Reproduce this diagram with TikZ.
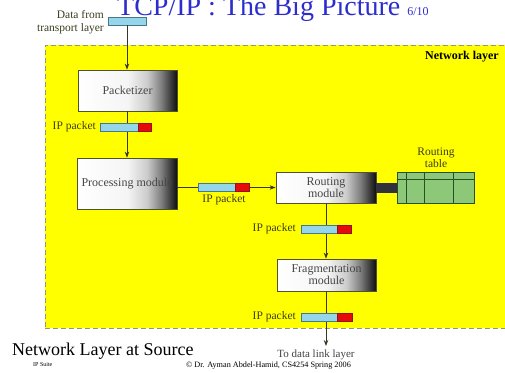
\documentclass[tikz,border=0pt]{standalone}
\usepackage{fontspec}
\setmainfont{Liberation Serif}
\usetikzlibrary{arrows.meta}
\definecolor{titleblue}{RGB}{45,45,205}
\definecolor{cyanfill}{RGB}{150,214,234}
\definecolor{cyanedge}{RGB}{70,120,140}
\definecolor{redfill}{RGB}{230,10,10}
\definecolor{rededge}{RGB}{140,20,20}
\definecolor{greenfill}{RGB}{140,200,120}
\definecolor{greenline}{RGB}{40,80,40}
\definecolor{darkconn}{RGB}{50,50,60}
\definecolor{linecol}{RGB}{55,55,35}
\definecolor{lblcol}{RGB}{60,60,30}
\definecolor{boxtext}{RGB}{70,70,70}
\definecolor{boxline}{RGB}{80,80,50}
\definecolor{dashcol}{RGB}{150,150,110}
\definecolor{ylw}{RGB}{255,255,0}
\pgfdeclarehorizontalshading{boxshade}{100bp}{rgb(0bp)=(1,1,1); rgb(25bp)=(1,1,1); rgb(50bp)=(0.96,0.96,0.96); rgb(60bp)=(0.8,0.8,0.8); rgb(67bp)=(0.5,0.5,0.5); rgb(75bp)=(0.06,0.06,0.06); rgb(100bp)=(0.06,0.06,0.06)}
\begin{document}
\begin{tikzpicture}[x=1pt,y=-1pt,
  module/.style={draw=boxline, line width=0.8pt, shade, shading=boxshade, inner sep=0pt, align=center, text=boxtext, font=\fontsize{12}{12}\selectfont},
  cyanbar/.style={draw=cyanedge, line width=0.6pt, fill=cyanfill, inner sep=0pt, minimum height=8pt},
  redbar/.style={draw=rededge, line width=0.6pt, fill=redfill, inner sep=0pt, minimum height=8pt},
  lbl/.style={inner sep=0pt, text=lblcol, font=\fontsize{11.5}{12}\selectfont},
  flow/.style={draw=linecol, line width=0.9pt, -{Stealth[length=6pt,width=4.5pt]}},
  tblline/.style={draw=greenline, line width=0.8pt}]
\useasboundingbox (0,0) rectangle (505,372);
% title
\node[anchor=base west, inner sep=0pt, text=titleblue, font=\fontsize{28}{28}\selectfont] (title) at (117,16) {TCP/IP : The Big Picture {\fontsize{12}{12}\selectfont 6/10}};
% network layer region
\node[draw=dashcol, fill=ylw, dash pattern=on 5pt off 3pt, line width=1pt, minimum width=472pt, minimum height=283pt, inner sep=0pt] (region) at (281,186.5) {};
\node[anchor=east, inner sep=0pt, font=\bfseries\fontsize{12}{12}\selectfont] (nltitle) at (499,57) {Network layer};
% input
\node[anchor=east, align=right, inner sep=0pt, text=lblcol, font=\fontsize{11.5}{13}\selectfont] (dlabel) at (104,22) {Data from\\transport layer};
\node[cyanbar, minimum width=38pt] (din) at (127,21) {};
% modules
\node[module, minimum width=99pt, minimum height=41pt] (pk) at (127.5,90.5) {Packetizer};
\node[module, minimum width=100pt, minimum height=51pt] (proc) at (127,183.5) {Processing module};
\node[module, minimum width=100pt, minimum height=31pt] (rt) at (326,187.5) {Routing\\module};
\node[module, minimum width=99pt, minimum height=32pt] (fr) at (326.5,275) {Fragmentation\\module};
\node[draw=greenline, line width=0.8pt, fill=greenfill, minimum width=77pt, minimum height=31pt, inner sep=0pt] (tbl) at (435.5,187.5) {};
\node[lbl, align=center] (tlabel) at (436,158) {Routing\\table};
\coordinate (out) at (326,346);
% connectors
\draw[flow] (din.south) -- (din.south |- pk.north);
\draw[flow] (pk.south -| din.south) -- (proc.north -| din.south);
\draw[flow] (rt.west -| proc.east) -- (rt.west);
\draw[flow] (rt.south) -- (rt.south |- fr.north);
\draw[flow] (fr.south -| rt.south) -- (out);
\draw[line width=10pt, draw=darkconn] (rt.east) -- (tbl.west);
\draw[tblline] ([xshift=10pt]tbl.north west) -- ([xshift=10pt]tbl.south west);
\draw[tblline] ([xshift=28pt]tbl.north west) -- ([xshift=28pt]tbl.south west);
\draw[tblline] ([xshift=57pt]tbl.north west) -- ([xshift=57pt]tbl.south west);
\draw[tblline] ([yshift=-8pt]tbl.north west) -- ([yshift=-8pt]tbl.north east);
% packets
\node[cyanbar, minimum width=38pt] (p1a) at (119,127) {};
\node[redbar, minimum width=13pt] (p1b) at (144.5,127) {};
\node[lbl, anchor=east] (p1l) at (96,127) {IP packet};
\node[cyanbar, minimum width=37pt] (p2a) at (216.5,187.5) {};
\node[redbar, minimum width=14pt] (p2b) at (242,187.5) {};
\node[lbl] (p2l) at (224,200) {IP packet};
\node[cyanbar, minimum width=36pt] (p3a) at (319,229) {};
\node[redbar, minimum width=14pt] (p3b) at (344,229) {};
\node[lbl, anchor=east] (p3l) at (296,229) {IP packet};
\node[cyanbar, minimum width=36pt] (p4a) at (319,317) {};
\node[redbar, minimum width=15pt] (p4b) at (344.5,317) {};
\node[lbl, anchor=east] (p4l) at (296,317) {IP packet};
\node[anchor=base, inner sep=0pt, text=black!75, font=\fontsize{11}{11}\selectfont] (dll) at (316,357) {To data link layer};
% footer
\node[anchor=base west, inner sep=0pt, font=\fontsize{18}{18}\selectfont] (caption) at (12,355) {Network Layer at Source};
\node[anchor=base west, inner sep=0pt, font=\fontsize{6}{6}\selectfont] (suite) at (33,366) {IP Suite};
\node[anchor=base west, inner sep=0pt, font=\fontsize{8.2}{8.2}\selectfont] (copy) at (186,367) {\textcopyright{} Dr. Ayman Abdel-Hamid, CS4254 Spring 2006};
\end{tikzpicture}
\end{document}
